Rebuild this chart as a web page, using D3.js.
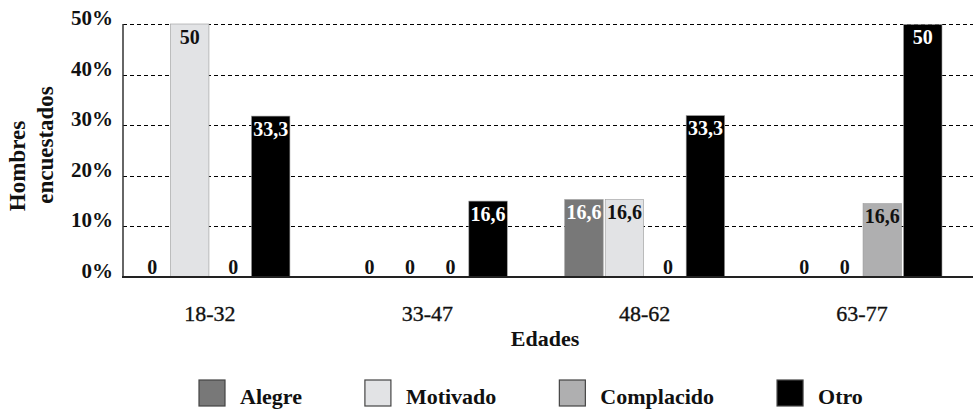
<!DOCTYPE html>
<html>
<head>
<meta charset="utf-8">
<script src="https://cdn.jsdelivr.net/npm/d3@7"></script>
<style>
  html, body { margin: 0; padding: 0; background: #fff; }
  svg { display: block; }
  text { font-family: "Liberation Serif", "Times New Roman", serif; fill: #111; }
</style>
</head>
<body>
<svg id="chart" width="973" height="417"></svg>
<script>
// ---- data ----
const categories = ["18-32", "33-47", "48-62", "63-77"];
const seriesNames = ["Alegre", "Motivado", "Complacido", "Otro"];
const alegre = [0, 0, 15.3, 0];
const motivado = [50, 0, 15.3, 0];
const complacido = [0, 0, 0, 14.5];
const otro = [31.8, 15.0, 31.9, 49.9];
const alegreLabels = ["0", "0", "16,6", "0"];
const motivadoLabels = ["50", "0", "16,6", "0"];
const complacidoLabels = ["0", "0", "0", "16,6"];
const otroLabels = ["33,3", "16,6", "33,3", "50"];
const yTicks = [0, 10, 20, 30, 40, 50];
const yTickLabels = ["0%", "10%", "20%", "30%", "40%", "50%"];
const colors = ["#787878", "#e2e3e5", "#afafb0", "#000000"];
const labelColors = ["#ffffff", "#111111", "#111111", "#ffffff"];

const values = [alegre, motivado, complacido, otro];
const labels = [alegreLabels, motivadoLabels, complacidoLabels, otroLabels];

const svg = d3.select("#chart");
const axisX = 123, axisRight = 973, y0px = 277, y50px = 24;

const y = d3.scaleLinear().domain([0, 50]).range([y0px, y50px]);
const x0 = d3.scaleBand().domain(categories).range([axisX, 949])
  .paddingInner(0.255).paddingOuter(0.0276);
const x1 = d3.scaleBand().domain(seriesNames).range([0, x0.bandwidth()])
  .paddingInner(0.05).paddingOuter(0.025);

// gridlines
svg.append("g").selectAll("line").data(yTicks.filter(d => d > 0)).join("line")
  .attr("x1", axisX).attr("x2", axisRight)
  .attr("y1", d => Math.round(y(d)) + 0.5).attr("y2", d => Math.round(y(d)) + 0.5)
  .attr("stroke", "#000").attr("stroke-width", 1).attr("stroke-dasharray", "4,3");

// y tick labels
svg.append("g").selectAll("text").data(yTicks).join("text")
  .attr("x", 113).attr("y", d => y(d) + 1)
  .attr("text-anchor", "end")
  .attr("font-size", 21).attr("font-weight", "bold")
  .text((d, i) => yTickLabels[i]);

// bars
const groups = svg.append("g").selectAll("g").data(categories).join("g")
  .attr("transform", d => `translate(${x0(d)},0)`);

groups.each(function(cat, ci) {
  const g = d3.select(this);
  seriesNames.forEach((s, si) => {
    const v = values[si][ci];
    if (v > 0) {
      g.append("rect")
        .attr("x", x1(s)).attr("width", x1.bandwidth())
        .attr("y", y(v)).attr("height", y(0) - y(v))
        .attr("fill", colors[si])
        .attr("stroke", "#9a9a9a").attr("stroke-width", 0.6);
    }
  });
  seriesNames.forEach((s, si) => {
    const v = values[si][ci];
    g.append("text")
      .attr("x", x1(s) + x1.bandwidth() / 2 + (v > 0 ? 0 : 3))
      .attr("y", v > 0 ? y(v) + 19.5 : y(0) - 3)
      .attr("text-anchor", "middle")
      .attr("font-size", 20).attr("font-weight", "bold")
      .style("fill", v > 0 ? labelColors[si] : "#111")
      .text(labels[si][ci]);
  });
});

// axes lines
svg.append("line").attr("x1", axisX).attr("x2", axisX)
  .attr("y1", y50px).attr("y2", y0px + 1)
  .attr("stroke", "#333").attr("stroke-width", 1.5);
svg.append("line").attr("x1", axisX - 1).attr("x2", axisRight)
  .attr("y1", y0px).attr("y2", y0px)
  .attr("stroke", "#222").attr("stroke-width", 2);

// x tick labels
svg.append("g").selectAll("text").data(categories).join("text")
  .attr("x", d => x0(d) + x0.bandwidth() / 2).attr("y", 321)
  .attr("text-anchor", "middle")
  .attr("font-size", 22).attr("font-weight", "normal")
  .style("stroke", "#111").style("stroke-width", 0.35)
  .text(d => d);

// axis titles
svg.append("text").attr("x", 545).attr("y", 346)
  .attr("text-anchor", "middle").attr("font-size", 22).attr("font-weight", "bold")
  .text("Edades");
svg.append("text").attr("transform", "translate(25,166) rotate(-90)")
  .attr("text-anchor", "middle").attr("font-size", 23).attr("font-weight", "bold")
  .text("Hombres");
svg.append("text").attr("transform", "translate(53,145) rotate(-90)")
  .attr("text-anchor", "middle").attr("font-size", 23).attr("font-weight", "bold")
  .text("encuestados");

// legend
const legend = svg.append("g");
let lx = 199;
seriesNames.forEach((s, si) => {
  legend.append("rect").attr("x", lx).attr("y", 380).attr("width", 26).attr("height", 26)
    .attr("fill", colors[si]).attr("stroke", "#444").attr("stroke-width", 1.2);
  const t = legend.append("text").attr("x", lx + 41).attr("y", 404)
    .attr("font-size", 22).attr("font-weight", "bold").text(s);
  lx += 41 + t.node().getComputedTextLength() + 63;
});
</script>
</body>
</html>
